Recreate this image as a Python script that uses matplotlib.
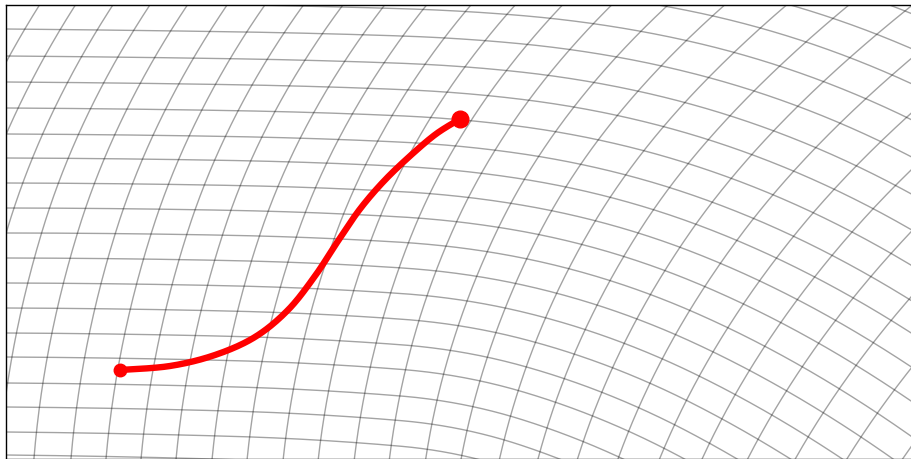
import numpy as np
import matplotlib
matplotlib.use("Agg")
import matplotlib.pyplot as plt

# warped grid, read in pixel coordinates of the picture (y grows downwards)
# family A ("vertical" lines): x where each line meets the bottom edge
v_line_bottom_x = [-286, -250, -215, -180, -144, -108, -73, -37, -2,
                   33, 70, 105, 140, 175, 211, 246, 282, 317, 353, 388, 424,
                   459, 497, 535, 574, 614, 655, 697, 742, 789, 840, 895]
# family B ("horizontal" lines): y where each line meets the left spine
h_line_left_y = [-206, -180, -154, -128, -102, -76, -50, -24, 2,
                 29, 56, 82, 108, 134, 158, 183, 208, 233, 258, 283,
                 308, 333, 357, 383, 407, 432, 455]

# local direction of the two families, read at a few places
field_x = [-300, 0, 230, 400, 520, 690, 912]
field_y = [-200, 5, 230, 458]
# lean of the vertical lines: px to the right per px going up
v_lean = [[0.60, 0.62, 0.68, 0.78, 0.90, 1.10, 1.25],
          [0.60, 0.62, 0.68, 0.78, 0.90, 1.10, 1.25],
          [0.30, 0.30, 0.33, 0.40, 0.50, 0.70, 0.95],
          [0.08, 0.08, 0.10, 0.13, 0.25, 0.45, 0.70]]
# slope of the horizontal lines: px down per px going right
h_slope = [[0.00, 0.00, 0.00, 0.00, 0.02, 0.08, 0.20],
           [0.01, 0.01, 0.015, 0.03, 0.08, 0.20, 0.40],
           [0.00, 0.00, 0.02, 0.06, 0.18, 0.37, 0.58],
           [0.01, 0.01, 0.03, 0.09, 0.34, 0.55, 0.72]]

# red path
path_x = [120, 170, 215, 255, 288, 315, 338, 360, 384, 410, 436, 460]
path_y = [370, 366, 355, 337, 310, 276, 241, 209, 181, 156, 134, 119]


def sample(table, x, y):
    rows = [np.interp(x, field_x, r) for r in table]
    return np.interp(y, field_y, rows)


def trace_vertical(x0, step=2.0):
    xs, ys = [x0], [470.0]
    x, y = x0, 470.0
    while y > -10:
        x += sample(v_lean, x, y) * step
        y -= step
        xs.append(x)
        ys.append(y)
    return xs, ys


def trace_horizontal(y0, step=2.0):
    xs, ys = [6.0], [y0]
    x, y = 6.0, y0
    while x < 925:
        y += sample(h_slope, x, y) * step
        x += step
        xs.append(x)
        ys.append(y)
    return xs, ys


def smooth_path(px, py, n=24):
    # catmull-rom through the read points
    p = np.column_stack([px, py]).astype(float)
    p = np.vstack([p[0], p, p[-1]])
    out = []
    t = np.linspace(0, 1, n, endpoint=False)[:, None]
    for i in range(1, len(p) - 2):
        p0, p1, p2, p3 = p[i - 1], p[i], p[i + 1], p[i + 2]
        seg = 0.5 * ((2 * p1) + (-p0 + p2) * t
                     + (2 * p0 - 5 * p1 + 4 * p2 - p3) * t ** 2
                     + (-p0 + 3 * p1 - 3 * p2 + p3) * t ** 3)
        out.append(seg)
    out.append(p[-2][None, :])
    out = np.vstack(out)
    return out[:, 0], out[:, 1]


fig = plt.figure(figsize=(9.12, 4.59), dpi=100)
ax = fig.add_axes([6 / 912, 0.5 / 459, (913.5 - 6) / 912, (458.5 - 5) / 459])

for x0 in v_line_bottom_x:
    xs, ys = trace_vertical(x0)
    ax.plot(xs, ys, color="k", alpha=0.36, lw=1.0)

for y0 in h_line_left_y:
    xs, ys = trace_horizontal(y0)
    ax.plot(xs, ys, color="k", alpha=0.36, lw=1.0)

sx, sy = smooth_path(path_x, path_y)
ax.plot(sx, sy, color="red", lw=4.6, solid_capstyle="round",
        solid_joinstyle="round", zorder=5)
ax.plot(path_x[0], path_y[0], "o", color="red", ms=9, zorder=6)
ax.plot(path_x[-1], path_y[-1], "o", color="red", ms=12, zorder=6)

ax.set_xlim(6, 913.5)
ax.set_ylim(458.5, 5)
ax.set_xticks([])
ax.set_yticks([])
for s in ax.spines.values():
    s.set_linewidth(1.0)
    s.set_color("k")

fig.savefig("out.png", dpi=100)
